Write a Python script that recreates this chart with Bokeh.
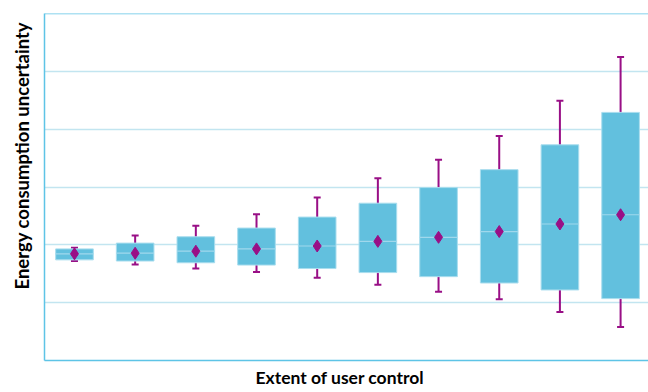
import numpy as np
from bokeh.plotting import figure
from bokeh.models import Range1d, Span, Whisker, ColumnDataSource, TeeHead, Title, FixedTicker
from bokeh.embed import file_html
from bokeh.resources import INLINE

x_label_text = "Extent of user control"
y_label_text = "Energy consumption uncertainty"

control_level = [1, 2, 3, 4, 5, 6, 7, 8, 9, 10]
box_high = [1.93, 2.03, 2.14, 2.29, 2.48, 2.72, 2.99, 3.30, 3.73, 4.29]
box_low = [1.74, 1.72, 1.69, 1.65, 1.59, 1.52, 1.45, 1.34, 1.22, 1.07]
central = [1.845, 1.855, 1.89, 1.93, 1.98, 2.06, 2.13, 2.23, 2.36, 2.52]
range_high = [1.95, 2.16, 2.33, 2.53, 2.82, 3.15, 3.47, 3.88, 4.49, 5.25]
range_low = [1.72, 1.66, 1.59, 1.53, 1.43, 1.31, 1.19, 1.06, 0.84, 0.58]
grid_levels = [1, 2, 3, 4, 5]
y_top = 6

AXIS_BLUE = "#5ec4e6"
GRID_BLUE = "#c2e5f0"
BOX_FILL = "#62c0de"
BOX_EDGE = "#a9ddee"
MEDIAN = "#a0d8ec"
PURPLE = "#990f86"
FONT = "Lato"
BOX_W = 0.62

xs = np.array(control_level, dtype=float)
src = ColumnDataSource(dict(
    x=xs, top=box_high, bottom=box_low, mid=central, hi=range_high, lo=range_low,
    x0=xs - BOX_W / 2, x1=xs + BOX_W / 2,
))

p = figure(width=648, height=392, x_range=Range1d(0.506, 10.46), y_range=Range1d(0, y_top),
           output_backend="svg", toolbar_location=None,
           min_border_left=44, min_border_right=0, min_border_top=13, min_border_bottom=31,
           outline_line_color=None, background_fill_color="white", border_fill_color="white")

for ax in (p.xaxis[0], p.yaxis[0]):
    ax.axis_line_color = AXIS_BLUE
    ax.axis_line_width = 1.5
    ax.major_tick_line_color = None
    ax.minor_tick_line_color = None
    ax.major_tick_out = 0
    ax.major_tick_in = 0
    ax.major_label_standoff = 0
    ax.ticker = FixedTicker(ticks=[])
p.xgrid.visible = False
p.ygrid.ticker = FixedTicker(ticks=grid_levels)
p.ygrid.grid_line_color = GRID_BLUE
p.ygrid.grid_line_width = 1.5
p.add_layout(Span(location=y_top, dimension="width", line_color=AXIS_BLUE, line_width=1.5))

p.vbar(x="x", width=BOX_W, top="top", bottom="bottom", source=src,
       fill_color=BOX_FILL, line_color=BOX_EDGE, line_width=1)
p.segment(x0="x0", y0="mid", x1="x1", y1="mid", source=src, line_color=MEDIAN, line_width=1.2)
p.add_layout(Whisker(source=src, base="x", upper="hi", lower="lo", line_color=PURPLE, line_width=2,
                     upper_head=TeeHead(size=7, line_color=PURPLE, line_width=2),
                     lower_head=TeeHead(size=7, line_color=PURPLE, line_width=2)))
p.scatter(x="x", y="mid", source=src, marker="diamond", size=12,
          fill_color=PURPLE, line_color=PURPLE, line_width=1)

p.add_layout(Title(text=y_label_text, align="left", offset=71, standoff=20, vertical_align="top",
                   text_font=FONT, text_font_style="bold", text_font_size="18.5px",
                   text_color="black"), "left")
p.add_layout(Title(text=x_label_text, align="left", offset=211, standoff=9, vertical_align="bottom",
                   text_font=FONT, text_font_style="bold", text_font_size="17.5px",
                   text_color="black"), "below")

open("out.html", "w").write(file_html(p, INLINE))
